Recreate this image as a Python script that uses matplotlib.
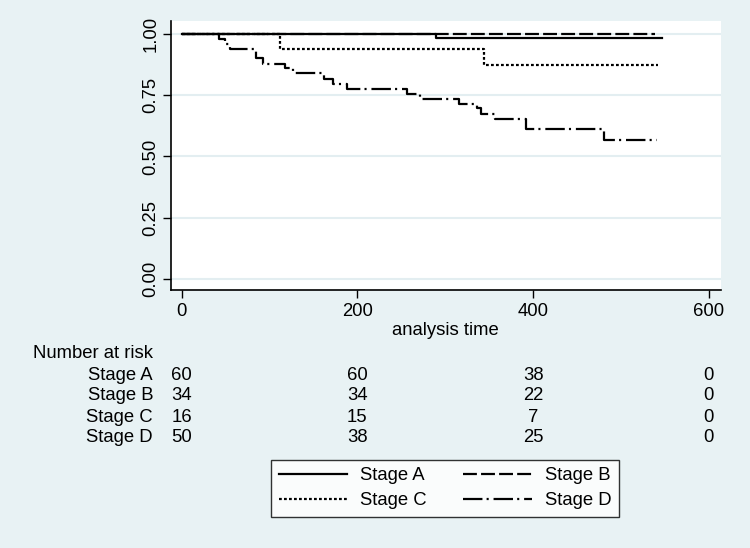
import matplotlib.pyplot as plt
from matplotlib.transforms import blended_transform_factory

plt.rcParams['font.family'] = ['Liberation Sans', 'DejaVu Sans']
plt.rcParams['lines.scale_dashes'] = False

# Kaplan-Meier step data (time, survival)
time_a = [0, 290, 547]
surv_a = [1.0, 0.983, 0.983]

time_b = [0, 539]
surv_b = [1.0, 1.0]

time_c = [0, 112, 344, 542]
surv_c = [1.0, 0.9375, 0.875, 0.875]

time_d = [0, 43, 49, 55, 85, 92, 118, 127, 162, 172, 188, 256, 271, 316,
          336, 341, 357, 392, 481, 541]
surv_d = [1.0, 0.98, 0.96, 0.94, 0.90, 0.878, 0.86, 0.84, 0.818, 0.797,
          0.776, 0.756, 0.735, 0.716, 0.696, 0.675, 0.654, 0.612, 0.567, 0.567]

# Number at risk table
risk_times = [0, 200, 400, 600]
risk_groups = ['Stage A', 'Stage B', 'Stage C', 'Stage D']
risk_counts = [[60, 60, 38, 0],
               [34, 34, 22, 0],
               [16, 15, 7, 0],
               [50, 38, 25, 0]]

bg = '#e8f2f4'
grid_col = '#e3eef1'
fs = 13.3

fig = plt.figure(figsize=(7.5, 5.48), dpi=100)
fig.patch.set_facecolor(bg)
ax = fig.add_axes([170.7 / 750, 1 - 290 / 548, 550 / 750, 269 / 548])
ax.set_facecolor('white')

lw = 1.6
ax.step(time_b, surv_b, where='post', color='black', lw=lw,
        linestyle=(0, (10, 3)), label='Stage B')
ax.step(time_a, surv_a, where='post', color='black', lw=lw,
        linestyle='-', label='Stage A')
ax.step(time_c, surv_c, where='post', color='black', lw=lw,
        linestyle=(0, (2, 1.6)), label='Stage C')
ax.step(time_d, surv_d, where='post', color='black', lw=lw,
        linestyle=(0, (14, 3, 1.5, 3.5)), label='Stage D')

ax.set_xlim(-12.5, 613.5)
ax.set_ylim(-0.045, 1.053)
ax.set_xticks([0, 200, 400, 600])
ax.set_yticks([0, 0.25, 0.5, 0.75, 1.0])
ax.set_yticklabels(['0.00', '0.25', '0.50', '0.75', '1.00'], rotation=90,
                   va='center')
ax.tick_params(axis='both', labelsize=fs, length=6, width=1, color='black')
ax.tick_params(axis='y', pad=2)
ax.grid(axis='y', color=grid_col, lw=1.5)
ax.set_axisbelow(True)
for s in ['top', 'right']:
    ax.spines[s].set_visible(False)
for s in ['left', 'bottom']:
    ax.spines[s].set_linewidth(1.2)
ax.set_xlabel('analysis time', fontsize=fs, labelpad=1)

# number at risk
tr = blended_transform_factory(ax.transData, fig.transFigure)
fig.text(33 / 750, 1 - 353.3 / 548, 'Number at risk', fontsize=fs,
         ha='left', va='center')
row_y = [375, 396, 417, 438]
for name, counts, y in zip(risk_groups, risk_counts, row_y):
    fig.text(153 / 750, 1 - y / 548, name, fontsize=fs, ha='right', va='center')
    for t, c in zip(risk_times, counts):
        ax.text(t, 1 - y / 548, str(c), fontsize=fs, ha='center', va='center',
                transform=tr, clip_on=False)

# legend rows: A B / C D (matplotlib fills columns first)
handles, labels = ax.get_legend_handles_labels()
order = [labels.index(l) for l in ['Stage A', 'Stage C', 'Stage B', 'Stage D']]
leg = fig.legend([handles[i] for i in order], [labels[i] for i in order],
                 loc='center', bbox_to_anchor=(445 / 750, 1 - 488.3 / 548),
                 ncol=2, fontsize=fs, frameon=True, fancybox=False,
                 edgecolor='black', handlelength=3.7, handletextpad=0.7,
                 columnspacing=2.0, borderpad=0.4, labelspacing=0.45)
leg.get_frame().set_linewidth(1.0)
leg.get_frame().set_facecolor('white')

fig.savefig('out.png', dpi=100, facecolor=bg)
